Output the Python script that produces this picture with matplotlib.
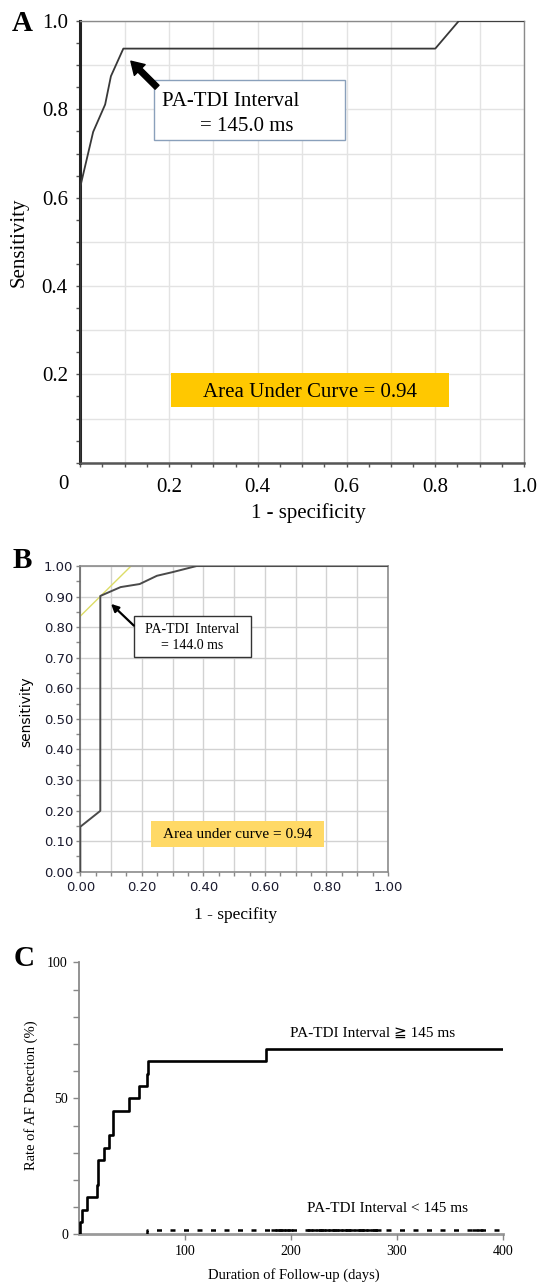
import matplotlib.pyplot as plt
import numpy as np
from matplotlib.patches import Rectangle
from matplotlib.ticker import MultipleLocator

# panel A: ROC curve (first cohort)
roc_a_fpr = [0.0, 0.0, 0.029, 0.056, 0.069, 0.097, 0.80, 0.853, 1.0]
roc_a_tpr = [0.0, 0.625, 0.749, 0.811, 0.875, 0.9375, 0.9375, 1.0, 1.0]
a_ticks = [0.0, 0.1, 0.2, 0.3, 0.4, 0.5, 0.6, 0.7, 0.8, 0.9, 1.0]
a_ticklabels = ['', '', '0.2', '', '0.4', '', '0.6', '', '0.8', '', '1.0']

# panel B: ROC curve (second cohort) + tangent line
roc_b_fpr = [0.0, 0.0, 0.065, 0.065, 0.131, 0.193, 0.249, 0.30, 0.378, 1.0]
roc_b_tpr = [0.0, 0.147, 0.199, 0.902, 0.931, 0.941, 0.968, 0.98, 1.0, 1.0]
tangent_fpr = [0.0, 0.165]
tangent_tpr = [0.836, 1.0]
b_yticklabels = ['0.00', '0.10', '0.20', '0.30', '0.40', '0.50',
                 '0.60', '0.70', '0.80', '0.90', '1.00']
b_xticklabels = ['0.00', '', '0.20', '', '0.40', '', '0.60', '', '0.80', '', '1.00']

# panel C: Kaplan-Meier style AF detection
km_high_days = [0, 1, 2.6, 7.5, 16.6, 18.2, 23.7, 28, 31.9, 47.5, 56.3, 64.4, 65.4, 176, 400]
km_high_rate = [0, 4.5, 9.1, 13.6, 18.2, 27.3, 31.8, 36.4, 45.5, 50.0, 54.5, 59.1, 63.6, 68.2, 68.2]
km_low_days = [64, 64, 400]
km_low_rate = [0, 1.5, 1.5]
low_censor_days = [184, 188, 192, 196, 199, 218, 222, 226, 230, 234, 238, 242, 246,
                   250, 254, 258, 262, 266, 270, 274, 278, 282, 374, 378]
c_yticks = [0, 10, 20, 30, 40, 50, 60, 70, 80, 90, 100]
c_yticklabels = ['0', '', '', '', '', '50', '', '', '', '', '100']
c_xticks = [100, 200, 300, 400]

SERIF = ['Liberation Serif', 'DejaVu Serif']
plt.rcParams['font.family'] = SERIF

W, H = 540, 1283


def px_box(l, t, r, b):
    return [l / W, 1 - b / H, (r - l) / W, (b - t) / H]


fig = plt.figure(figsize=(5.4, 12.83), dpi=100)

# ---------------- A ----------------
axA = fig.add_axes(px_box(80.3, 21, 524, 462.7))
axA.plot(roc_a_fpr, roc_a_tpr, color='#383838', lw=1.3, zorder=3)
axA.set_xlim(0, 1)
axA.set_ylim(0, 1)
axA.set_xticks(a_ticks)
axA.set_xticklabels(a_ticklabels)
axA.set_yticks(a_ticks)
axA.set_yticklabels(a_ticklabels)
axA.xaxis.set_minor_locator(MultipleLocator(0.05))
axA.yaxis.set_minor_locator(MultipleLocator(0.05))
axA.grid(True, which='major', color='#e3e3e3', lw=1, zorder=0)
axA.tick_params(which='both', direction='out', length=3, width=1, color='#555555',
                labelsize=15)
axA.tick_params(axis='x', pad=8)
axA.tick_params(axis='y', pad=6)
axA.spines['left'].set_color('#222222')
axA.spines['left'].set_linewidth(2.2)
axA.spines['bottom'].set_color('#555555')
axA.spines['bottom'].set_linewidth(1.8)
for s in ['top', 'right']:
    axA.spines[s].set_color('#8a8a8a')
    axA.spines[s].set_linewidth(1)
axA.text(-0.038, -0.05, '0', transform=axA.transAxes, ha='center', va='center', fontsize=15)
axA.text(-0.138, 0.5, 'Sensitivity', transform=axA.transAxes, rotation=90,
         ha='center', va='center', fontsize=15)
axA.text(0.515, -0.114, '1 - specificity', transform=axA.transAxes,
         ha='center', va='center', fontsize=15)

axA.add_patch(Rectangle((0.165, 0.73), 0.431, 0.136, facecolor='white',
                        edgecolor='#8aa0bb', lw=1, zorder=4))
axA.text(0.184, 0.817, 'PA-TDI Interval', ha='left', va='center', fontsize=15, zorder=5)
axA.text(0.27, 0.762, '= 145.0 ms', ha='left', va='center', fontsize=15, zorder=5)
axA.annotate('', xy=(0.114, 0.909), xytext=(0.173, 0.85),
             arrowprops=dict(facecolor='black', edgecolor='black', width=4,
                             headwidth=11, headlength=9, shrink=0), zorder=5)
axA.add_patch(Rectangle((0.205, 0.127), 0.627, 0.076, facecolor='#FFC800',
                        edgecolor='none', zorder=4))
axA.text(0.518, 0.158, 'Area Under Curve = 0.94', ha='center', va='center',
         fontsize=15, zorder=5)

# ---------------- B ----------------
axB = fig.add_axes(px_box(80.3, 566, 388, 871.7))
axB.plot(tangent_fpr, tangent_tpr, color='#dcdc66', lw=1, zorder=2)
axB.plot(roc_b_fpr, roc_b_tpr, color='#4a4a4a', lw=1.4, zorder=3)
axB.set_xlim(0, 1)
axB.set_ylim(0, 1)
axB.set_xticks(a_ticks)
axB.set_xticklabels(b_xticklabels)
axB.set_yticks(a_ticks)
axB.set_yticklabels(b_yticklabels)
axB.xaxis.set_minor_locator(MultipleLocator(0.05))
axB.yaxis.set_minor_locator(MultipleLocator(0.05))
axB.grid(True, which='major', color='#d2d2d2', lw=1, zorder=0)
axB.tick_params(which='both', direction='out', length=3, width=1, color='#888888',
                labelsize=9.5, labelcolor='#1a1a2e')
axB.tick_params(axis='x', pad=4)
axB.tick_params(axis='y', pad=2)
for lab in axB.get_xticklabels() + axB.get_yticklabels():
    lab.set_family('DejaVu Sans')
for s in axB.spines.values():
    s.set_color('#8c8c8c')
    s.set_linewidth(1.2)
axB.spines['left'].set_color('#666666')
axB.text(-0.176, 0.523, 'sensitivity', transform=axB.transAxes, rotation=90,
         ha='center', va='center', fontsize=10, family='DejaVu Sans')
axB.text(0.506, -0.142, '1 - specifity', transform=axB.transAxes,
         ha='center', va='center', fontsize=12.5)

axB.add_patch(Rectangle((0.174, 0.701), 0.38, 0.135, facecolor='white',
                        edgecolor='#333333', lw=1, zorder=4))
axB.text(0.364, 0.792, 'PA-TDI  Interval', ha='center', va='center', fontsize=10, zorder=5)
axB.text(0.364, 0.74, '= 144.0 ms', ha='center', va='center', fontsize=10, zorder=5)
axB.annotate('', xy=(0.10, 0.876), xytext=(0.174, 0.805),
             arrowprops=dict(arrowstyle='-|>', color='black', lw=1.6,
                             mutation_scale=11, shrinkA=0, shrinkB=0), zorder=5)
axB.add_patch(Rectangle((0.229, 0.08), 0.563, 0.086, facecolor='#FFD966',
                        edgecolor='none', zorder=4))
axB.text(0.51, 0.123, 'Area under curve = 0.94', ha='center', va='center',
         fontsize=11, zorder=5)

# ---------------- C ----------------
axC = fig.add_axes(px_box(79, 962.3, 503, 1234.3))
axC.step(km_high_days, km_high_rate, where='post', color='black', lw=1.9, zorder=3)
axC.step(km_low_days, km_low_rate, where='post', color='black', lw=1.8,
         linestyle=(0, (2, 3.4)), zorder=3)
axC.plot(low_censor_days, [km_low_rate[-1]] * len(low_censor_days), ls='none',
         marker='_', markersize=4, mew=1.8, color='black', zorder=3)
axC.set_xlim(0, 400)
axC.set_ylim(0, 100)
axC.set_yticks(c_yticks)
axC.set_yticklabels(c_yticklabels)
axC.set_xticks(c_xticks)
axC.tick_params(direction='out', length=4, width=1, color='#888888', labelsize=10)
axC.tick_params(axis='x', pad=4)
axC.tick_params(axis='y', pad=4)
axC.spines['top'].set_visible(False)
axC.spines['right'].set_visible(False)
axC.spines['left'].set_color('#8a8a8a')
axC.spines['left'].set_linewidth(1.3)
axC.spines['bottom'].set_color('#9a9a9a')
axC.spines['bottom'].set_linewidth(2)
axC.spines['bottom'].set_zorder(1)
axC.text(-0.113, 0.512, 'Rate of AF Detection (%)', transform=axC.transAxes, rotation=90,
         ha='center', va='center', fontsize=10.5)
axC.text(0.507, -0.15, 'Duration of Follow-up (days)', transform=axC.transAxes,
         ha='center', va='center', fontsize=10.5)
axC.text(198.8, 74, 'PA-TDI Interval \u2267 145 ms', ha='left', va='center', fontsize=11,
         family=['Liberation Serif', 'DejaVu Sans'])
axC.text(215, 9.6, 'PA-TDI Interval < 145 ms', ha='left', va='center', fontsize=11)

# panel letters
fig.text(22.5 / W, 1 - 23.3 / H, 'A', fontsize=21, weight='bold', ha='center', va='center')
fig.text(22.4 / W, 1 - 560.3 / H, 'B', fontsize=21, weight='bold', ha='center', va='center')
fig.text(24 / W, 1 - 959 / H, 'C', fontsize=21, weight='bold', ha='center', va='center')

fig.savefig('out.png', dpi=100)
